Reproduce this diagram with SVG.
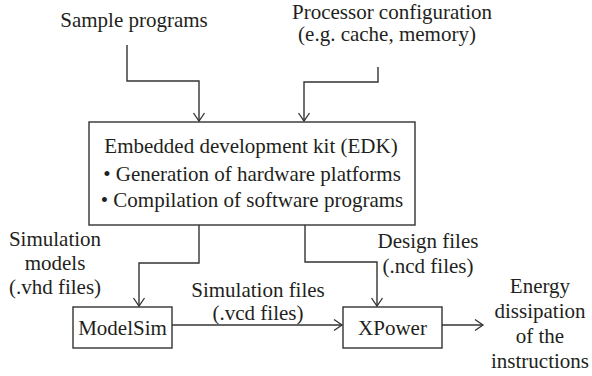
<svg xmlns="http://www.w3.org/2000/svg" width="592" height="376" viewBox="0 0 592 376">
<defs>
<marker id="ah" markerWidth="14" markerHeight="14" refX="12" refY="7" orient="auto" markerUnits="userSpaceOnUse">
<path d="M4,1.5 L12,7 L4,12.5" fill="none" stroke="#333" stroke-width="1.3"/>
</marker>
</defs>
<style>
text{font-size:21px;fill:#231f20;text-anchor:middle}
.box{fill:#fff;stroke:#333;stroke-width:1.4}
.ln{fill:none;stroke:#333;stroke-width:1.4;marker-end:url(#ah)}
</style>
<rect width="592" height="376" fill="#fff"/>
<g font-family="'Liberation Serif', 'DejaVu Serif', 'Times New Roman', serif">
<g id="sample"><text x="134" y="27">Sample programs</text></g>
<g id="proc"><text x="392" y="19">Processor configuration</text><text x="387" y="41">(e.g. cache, memory)</text></g>
<g id="edk"><rect class="box" x="89" y="122" width="326" height="103"/>
<text x="251" y="153">Embedded development kit (EDK)</text>
<text x="252" y="181">• Generation of hardware platforms</text>
<text x="252" y="207">• Compilation of software programs</text></g>
<g id="modelsim"><rect class="box" x="73" y="307" width="99" height="41"/><text x="122.5" y="335">ModelSim</text></g>
<g id="xpower"><rect class="box" x="343" y="307" width="99" height="41"/><text x="392.5" y="335">XPower</text></g>
<g id="simmodels"><text x="55" y="246">Simulation</text><text x="55" y="270">models</text><text x="55" y="294">(.vhd files)</text></g>
<g id="simfiles"><text x="258" y="297">Simulation files</text><text x="258" y="320">(.vcd files)</text></g>
<g id="design"><text x="428" y="248">Design files</text><text x="428" y="273">(.ncd files)</text></g>
<g id="energy"><text x="540" y="293">Energy</text><text x="540" y="318">dissipation</text><text x="540" y="343">of the</text><text x="540" y="368">instructions</text></g>
</g>
<g id="connectors">
<path class="ln" d="M127,45 V81 H199 V121"/>
<path class="ln" d="M378,67 V82 H304 V121"/>
<path class="ln" d="M199,225 V263 H139 V306"/>
<path class="ln" d="M305,225 V262 H377 V306"/>
<path class="ln" d="M172,325 H342"/>
<path class="ln" d="M442,325 H483"/>
</g>
</svg>
